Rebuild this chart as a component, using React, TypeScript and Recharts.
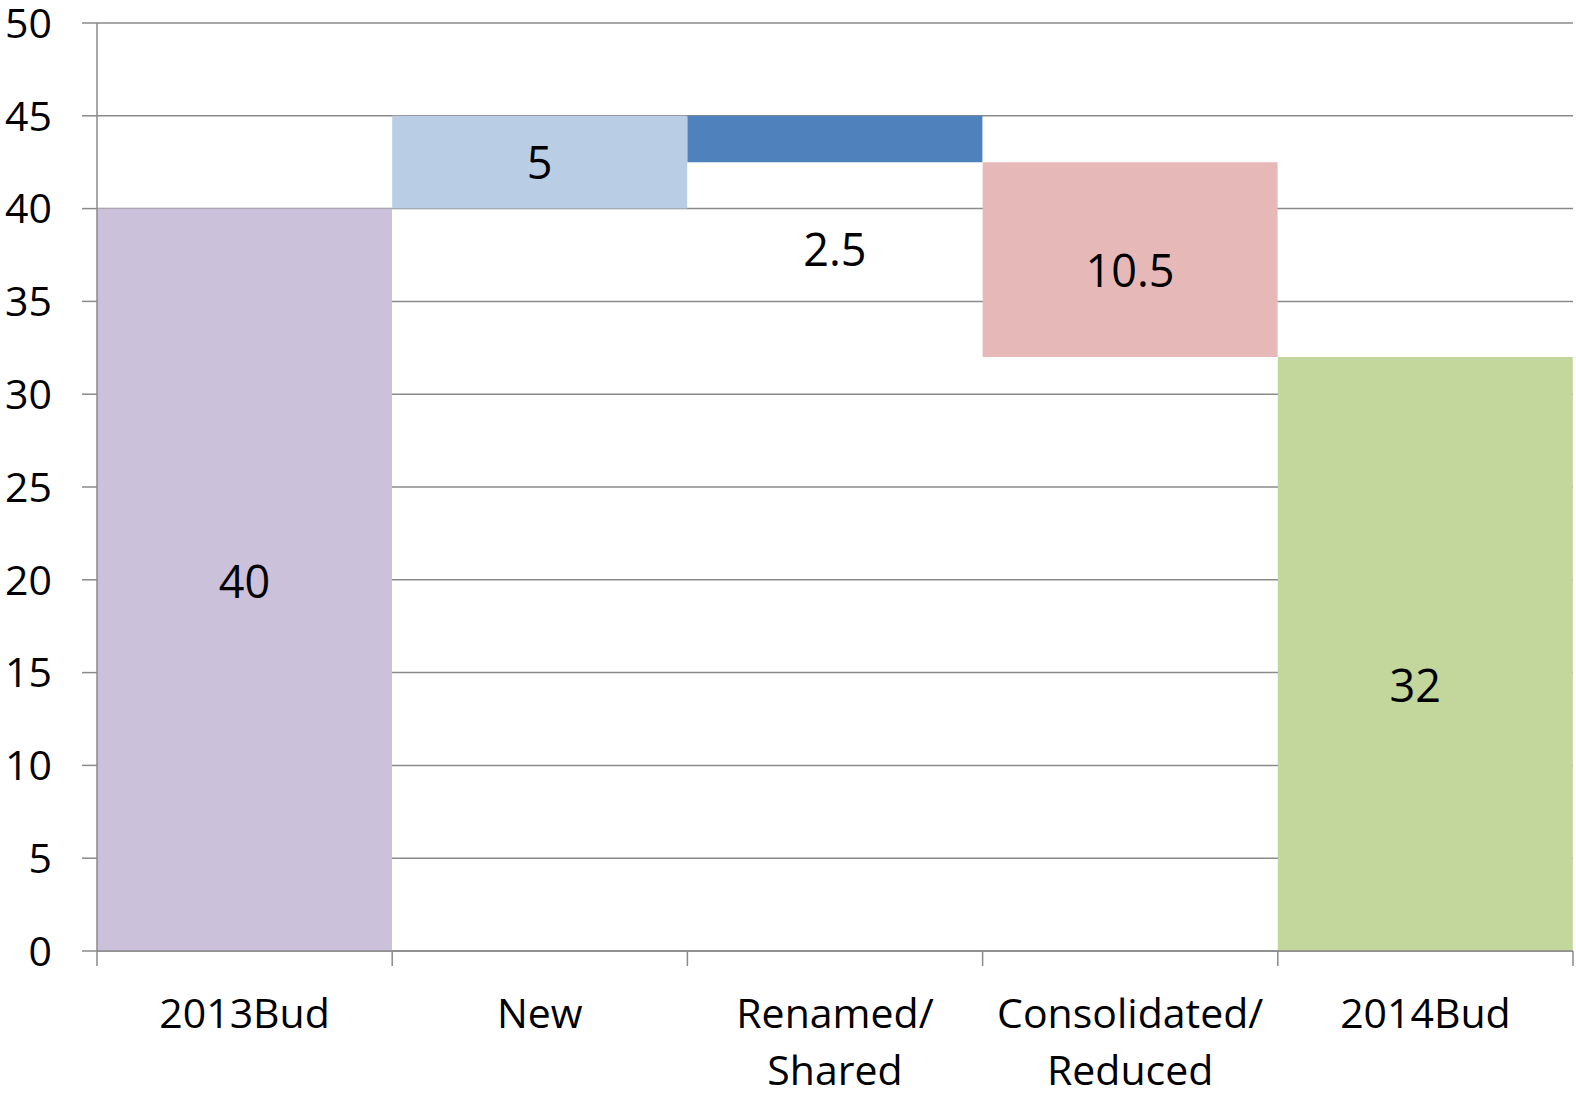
import { BarChart, Bar, XAxis, YAxis, CartesianGrid, Cell, LabelList } from "recharts"

// Budget bridge: opening total, the changes, closing total
const categories = ["2013Bud", "New", "Renamed/\nShared", "Consolidated/\nReduced", "2014Bud"]
const kinds = ["total", "change", "change", "change", "total"]
const amounts = [40, 5, -2.5, -10.5, 32]
const yTicks = [0, 5, 10, 15, 20, 25, 30, 35, 40, 45, 50]

const barColors = ["#CCC1DA", "#B9CDE5", "#4F81BD", "#E6B9B8", "#C3D69B"]
// the value labels were nudged away from the bar middles, px
const labelShiftX = [0, 0, 0, 0, -10]
const labelShiftY = [2, 1, 111, 11, 32]

const FONT = "'Open Sans', sans-serif"
const AXIS_FONT = 41
const LABEL_FONT = 45
const LINE_COLOR = "#8a8a8a"

// floating bars: an invisible base plus the visible step
let running = 0
const data = categories.map((name, i) => {
  const amt = amounts[i]
  let base = 0
  if (kinds[i] === "total") {
    running = amt
  } else {
    base = amt >= 0 ? running : running + amt
    running += amt
  }
  return { name, base, size: Math.abs(amt), label: Math.abs(amt) }
})

function YTick(props: any) {
  const { x, y, payload } = props
  return (
    <text x={x} y={y + AXIS_FONT * 0.36} textAnchor="end" fontSize={AXIS_FONT} fontFamily={FONT} fill="#000">
      {payload.value}
    </text>
  )
}

function XTick(props: any) {
  const { x, y, payload, index, visibleTicksCount } = props
  const half = payload.offset || 147.6
  const lines = String(payload.value).split("\n")
  return (
    <g>
      <line x1={x - half} x2={x - half} y1={y} y2={y + 15} stroke={LINE_COLOR} strokeWidth={1.5} />
      {index === visibleTicksCount - 1 && (
        <line x1={x + half} x2={x + half} y1={y} y2={y + 15} stroke={LINE_COLOR} strokeWidth={1.5} />
      )}
      <text textAnchor="middle" fontSize={AXIS_FONT} fontFamily={FONT} fill="#000">
        {lines.map((line, i) => (
          <tspan key={i} x={x} y={y + 77 + i * 57}>
            {line}
          </tspan>
        ))}
      </text>
    </g>
  )
}

function ValueLabel(props: any) {
  const { x, y, width, height, value, index } = props
  const cx = x + width / 2 + (labelShiftX[index] || 0)
  const cy = y + height / 2 + (labelShiftY[index] || 0)
  return (
    <text x={cx} y={cy + LABEL_FONT * 0.36} textAnchor="middle" fontSize={LABEL_FONT} fontFamily={FONT} fill="#000">
      {value}
    </text>
  )
}

export default function App() {
  return (
    <div style={{ position: "absolute", left: 0, top: 0, background: "#fff" }}>
      <BarChart
        width={1576}
        height={1095}
        data={data}
        margin={{ top: 23, right: 3, left: 0, bottom: 0 }}
        barCategoryGap={0}
        barGap={0}
      >
        <CartesianGrid vertical={false} stroke={LINE_COLOR} strokeWidth={1.5} />
        <XAxis
          dataKey="name"
          height={144}
          interval={0}
          tickLine={false}
          tickSize={0}
          tickMargin={0}
          axisLine={{ stroke: LINE_COLOR, strokeWidth: 1.5 }}
          tick={<XTick />}
        />
        <YAxis
          type="number"
          domain={[0, 50]}
          ticks={yTicks}
          width={97}
          tickSize={15}
          tickMargin={30}
          axisLine={{ stroke: LINE_COLOR, strokeWidth: 1.5 }}
          tickLine={{ stroke: LINE_COLOR, strokeWidth: 1.5 }}
          tick={<YTick />}
        />
        <Bar dataKey="base" stackId="bridge" fill="transparent" isAnimationActive={false} />
        <Bar dataKey="size" stackId="bridge" isAnimationActive={false}>
          {data.map((d, i) => (
            <Cell key={d.name} fill={barColors[i]} />
          ))}
          <LabelList dataKey="label" content={<ValueLabel />} />
        </Bar>
      </BarChart>
    </div>
  )
}
